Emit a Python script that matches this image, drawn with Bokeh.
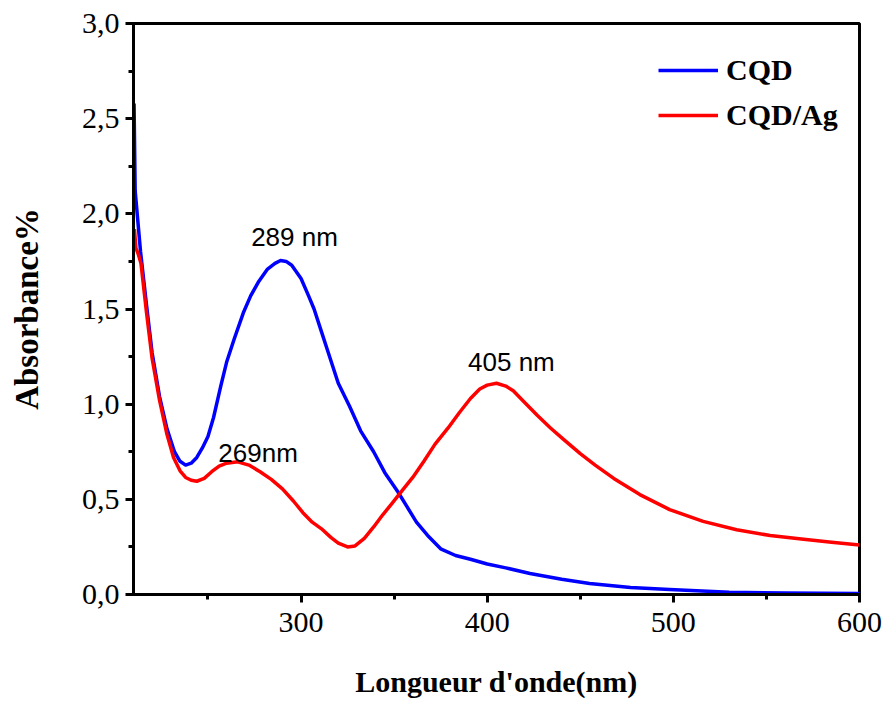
from bokeh.plotting import figure
from bokeh.models import (Range1d, SingleIntervalTicker, CustomJSTickFormatter,
                          Legend, LegendItem, ColumnDataSource)
from bokeh.core.properties import value
from bokeh.embed import file_html
from bokeh.resources import INLINE

# ---- data ----
cqd_wl = [210.3, 210.9, 213.8, 217, 220, 224, 228, 232, 235, 238, 241, 244, 247, 250,
          253, 257, 260, 264, 269, 273, 277, 282, 286, 289, 292, 295, 300, 304, 307,
          311, 314, 320, 326, 332, 339, 345, 352, 357, 362, 368, 375, 383, 391, 400,
          410, 423, 440, 455, 477, 498, 530, 560, 600]
cqd_abs = [2.58, 2.12, 1.80, 1.52, 1.27, 1.04, 0.87, 0.75, 0.70, 0.68, 0.69, 0.72, 0.77, 0.83,
           0.93, 1.10, 1.22, 1.34, 1.48, 1.57, 1.64, 1.71, 1.74, 1.755, 1.75, 1.73, 1.66, 1.57, 1.50,
           1.38, 1.29, 1.11, 0.99, 0.86, 0.75, 0.64, 0.54, 0.46, 0.38, 0.31, 0.24, 0.205, 0.185, 0.16,
           0.14, 0.11, 0.08, 0.058, 0.037, 0.026, 0.012, 0.008, 0.005]

ag_wl = [210.5, 211.3, 212.5, 214, 217, 220, 224, 228, 231.5, 235, 238, 241, 244, 248, 252,
         256, 260, 266, 272, 278, 284, 290, 296, 301, 306, 311, 316, 320, 325, 329, 334,
         339, 344, 349, 353, 360, 366, 372, 379, 385, 391, 396, 400, 405, 410, 414, 420,
         427, 434, 441, 450, 458, 468, 482, 498, 516, 534, 552, 570, 585, 600]
ag_abs = [1.92, 1.82, 1.79, 1.74, 1.48, 1.24, 1.02, 0.84, 0.72, 0.65, 0.615, 0.60, 0.595, 0.61, 0.645,
          0.675, 0.69, 0.697, 0.68, 0.645, 0.605, 0.555, 0.49, 0.43, 0.38, 0.345, 0.30, 0.27, 0.25, 0.255, 0.295,
          0.355, 0.42, 0.48, 0.53, 0.615, 0.70, 0.79, 0.875, 0.955, 1.03, 1.08, 1.10, 1.11, 1.095, 1.07, 1.01,
          0.94, 0.875, 0.815, 0.74, 0.68, 0.61, 0.525, 0.446, 0.384, 0.34, 0.31, 0.29, 0.275, 0.26]

series_names = ["CQD", "CQD/Ag"]
peak_labels = ["289 nm", "269nm", "405 nm"]
peak_label_x = [296.5, 276.9, 413.0]
peak_label_y = [1.88, 0.746, 1.219]

x_ticks_interval = 100
y_ticks_interval = 0.5

# ---- figure ----
p = figure(width=883, height=701, output_backend="svg", toolbar_location=None,
           x_range=Range1d(210, 600), y_range=Range1d(0, 3.0),
           min_border_left=133, min_border_right=24, min_border_top=23, min_border_bottom=107)
p.grid.visible = False
p.background_fill_color = "white"
p.border_fill_color = "white"
p.outline_line_color = "black"
p.outline_line_width = 3
p.outline_line_alpha = 1.0

serif = "Liberation Serif"

p.xaxis.ticker = SingleIntervalTicker(interval=x_ticks_interval, num_minor_ticks=2)
p.yaxis.ticker = SingleIntervalTicker(interval=y_ticks_interval, num_minor_ticks=2)
p.yaxis.formatter = CustomJSTickFormatter(code="return tick.toFixed(1).replace('.', ',');")

for ax in (p.xaxis[0], p.yaxis[0]):
    ax.axis_line_width = 3
    ax.axis_line_color = "black"
    ax.major_tick_line_width = 3
    ax.minor_tick_line_width = 3
    ax.major_tick_out = 8
    ax.major_tick_in = 0
    ax.minor_tick_out = 5
    ax.minor_tick_in = 0
    ax.major_label_text_font = serif
    ax.major_label_text_font_size = "30px"
    ax.major_label_text_color = "black"
    ax.axis_label_text_font = serif
    ax.axis_label_text_font_style = "bold"
    ax.axis_label_text_color = "black"

p.xaxis.major_label_standoff = 10
p.yaxis.major_label_standoff = 6
p.xaxis.axis_label = "Longueur d'onde(nm)"
p.yaxis.axis_label = "Absorbance%"
p.xaxis.axis_label_text_font_size = "30px"
p.yaxis.axis_label_text_font_size = "33px"
p.xaxis.axis_label_standoff = 30
p.yaxis.axis_label_standoff = 34

r1 = p.line(cqd_wl, cqd_abs, line_color="#0000FF", line_width=3.5, line_join="round")
r2 = p.line(ag_wl, ag_abs, line_color="#FF0000", line_width=3.5, line_join="round")

src = ColumnDataSource(dict(x=peak_label_x, y=peak_label_y, t=peak_labels))
p.text(x="x", y="y", text="t", source=src, text_font=value("Liberation Sans"),
       text_font_size="26px", text_align="center", text_baseline="alphabetic",
       text_color="black")

legend = Legend(items=[LegendItem(label=series_names[0], renderers=[r1]),
                       LegendItem(label=series_names[1], renderers=[r2])],
                location=(525, 462), padding=0, margin=0, spacing=11,
                glyph_width=60, glyph_height=30, label_height=30,
                label_standoff=8,
                label_text_font=serif, label_text_font_style="bold",
                label_text_font_size="30px", label_text_color="black",
                border_line_color=None, background_fill_alpha=0)
p.add_layout(legend)

open("out.html", "w").write(file_html(p, INLINE))
